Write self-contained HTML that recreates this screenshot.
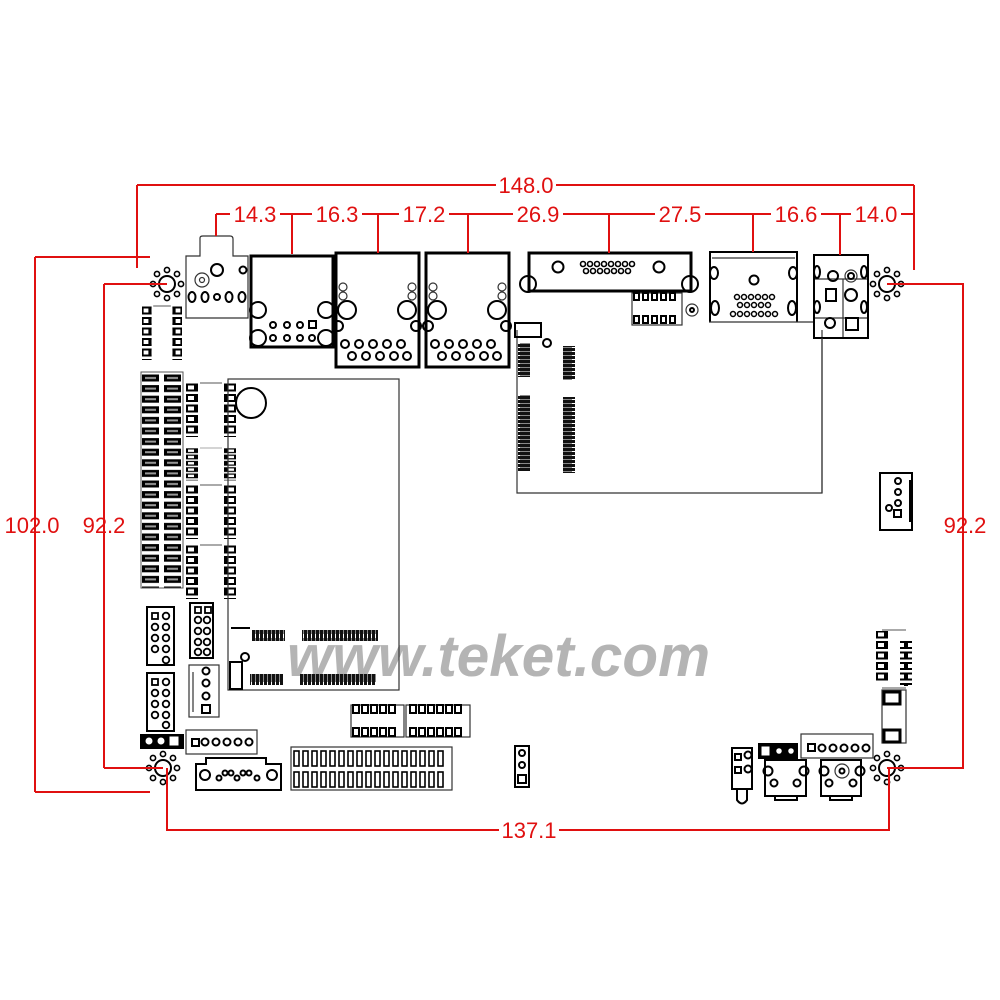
<!DOCTYPE html>
<html><head><meta charset="utf-8"><style>
html,body{margin:0;padding:0;background:#fff;}
svg{display:block;}
.r{stroke:#e01010;stroke-width:2;fill:none;}
.t{fill:#e01010;font-family:"Liberation Sans",sans-serif;font-size:22px;}
.k{stroke:#000;fill:none;stroke-width:3;}
.k2{stroke:#000;fill:none;stroke-width:2;}
.k1{stroke:#333;fill:none;stroke-width:1.2;}
</style></head><body>
<svg width="1000" height="1000" viewBox="0 0 1000 1000" xmlns="http://www.w3.org/2000/svg">
<defs>
<pattern id="dimm" x="141" y="373" width="42" height="10.6" patternUnits="userSpaceOnUse">
<rect x="1" y="1.5" width="17" height="7" fill="#000"/><rect x="4" y="4" width="11" height="2" fill="#999"/>
<rect x="23" y="1.5" width="17" height="7" fill="#000"/><rect x="26" y="4" width="11" height="2" fill="#999"/>
</pattern>
<pattern id="res" x="0" y="0" width="10" height="10.5" patternUnits="userSpaceOnUse">
<rect x="1" y="1.5" width="8" height="6" fill="#fff" stroke="#000" stroke-width="2"/>
</pattern>
<pattern id="slotv" x="0" y="0" width="14" height="4" patternUnits="userSpaceOnUse">
<rect x="0" y="0" width="14" height="3" fill="#111"/><rect x="2" y="3" width="10" height="1" fill="#888"/>
</pattern>
<pattern id="sloth" x="0" y="0" width="4" height="12" patternUnits="userSpaceOnUse">
<rect x="0" y="0" width="3" height="12" fill="#111"/><rect x="3" y="2" width="1" height="8" fill="#888"/>
</pattern>
<g id="mh">
<circle r="8" fill="#fff" stroke="#000" stroke-width="2"/>
<circle cx="0" cy="-14" r="2.6" fill="none" stroke="#000" stroke-width="1.6"/>
<circle cx="0" cy="14" r="2.6" fill="none" stroke="#000" stroke-width="1.6"/>
<circle cx="-14" cy="0" r="2.6" fill="none" stroke="#000" stroke-width="1.6"/>
<circle cx="14" cy="0" r="2.6" fill="none" stroke="#000" stroke-width="1.6"/>
<circle cx="-10" cy="-10" r="2.6" fill="none" stroke="#000" stroke-width="1.6"/>
<circle cx="10" cy="-10" r="2.6" fill="none" stroke="#000" stroke-width="1.6"/>
<circle cx="-10" cy="10" r="2.6" fill="none" stroke="#000" stroke-width="1.6"/>
<circle cx="10" cy="10" r="2.6" fill="none" stroke="#000" stroke-width="1.6"/>
</g>
<g id="resn">
<line x1="14" y1="0" x2="36" y2="0" stroke="#555" stroke-width="1"/>
<rect x="0" y="0" width="12" height="54" fill="url(#res)"/>
<rect x="38" y="0" width="12" height="54" fill="url(#res)"/>
</g>
</defs>

<text x="287" y="676" textLength="423" lengthAdjust="spacingAndGlyphs" font-family="Liberation Sans,sans-serif" font-size="58" font-weight="bold" font-style="italic" fill="#b4b4b4">www.teket.com</text>

<rect x="141" y="372" width="42" height="216" fill="url(#dimm)" stroke="#555" stroke-width="1"/>
<g transform="translate(186,383)"><use href="#resn"/></g>
<g transform="translate(186,448)"><use href="#resn" transform="scale(1,0.6)"/></g>
<g transform="translate(186,485)"><use href="#resn"/></g>
<g transform="translate(186,545)"><use href="#resn"/></g>
<g transform="translate(142,306)"><use href="#resn" transform="scale(0.8,1)"/></g>

<rect x="228" y="379" width="171" height="311" class="k1"/>
<circle cx="251" cy="403" r="15" class="k2"/>
<rect x="252" y="630" width="33" height="11" fill="url(#sloth)"/>
<rect x="302" y="630" width="76" height="11" fill="url(#sloth)"/>
<rect x="250" y="674" width="33" height="11" fill="url(#sloth)"/>
<rect x="300" y="674" width="76" height="11" fill="url(#sloth)"/>
<line x1="231" y1="628" x2="250" y2="628" stroke="#000" stroke-width="2"/>
<circle cx="245" cy="657" r="4" class="k2"/>
<rect x="230" y="662" width="12" height="27" class="k2"/>

<polyline points="517,330 517,493 822,493 822,330" class="k1"/>
<rect x="515" y="323" width="26" height="14" class="k2"/>
<circle cx="547" cy="343" r="4" class="k2"/>
<rect x="518" y="343" width="12" height="34" fill="url(#slotv)"/>
<rect x="518" y="395" width="12" height="76" fill="url(#slotv)"/>
<rect x="563" y="346" width="12" height="34" fill="url(#slotv)"/>
<rect x="563" y="397" width="12" height="76" fill="url(#slotv)"/>

<path d="M186,318 V256 H200 V238 Q200,236 203,236 H230 Q233,236 233,239 V256 H248 V318 Z" class="k1"/>
<circle cx="202" cy="280" r="7" class="k1"/><circle cx="202" cy="280" r="2.5" class="k1"/>
<circle cx="217" cy="270" r="6" class="k2"/><circle cx="243" cy="270" r="3.5" class="k2"/>
<ellipse cx="192" cy="297" rx="3.5" ry="5" class="k2"/><ellipse cx="205" cy="297" rx="3.5" ry="5" class="k2"/>
<circle cx="217" cy="297" r="3" class="k2"/><ellipse cx="229" cy="297" rx="3.5" ry="5" class="k2"/><ellipse cx="242" cy="297" rx="3.5" ry="5" class="k2"/>

<rect x="251" y="256" width="82" height="91" class="k"/>
<circle cx="258" cy="310" r="8" class="k2"/><circle cx="326" cy="310" r="8" class="k2"/>
<circle cx="258" cy="338" r="8" class="k2"/><circle cx="326" cy="338" r="8" class="k2"/>
<circle cx="273" cy="325" r="3" class="k2"/><circle cx="287" cy="325" r="3" class="k2"/><circle cx="300" cy="325" r="3" class="k2"/><rect x="309" y="321" width="7" height="7" class="k2"/>
<circle cx="273" cy="338" r="3" class="k2"/><circle cx="287" cy="338" r="3" class="k2"/><circle cx="300" cy="338" r="3" class="k2"/><circle cx="312" cy="338" r="3" class="k2"/>

<g id="rj2">
<rect x="336" y="253" width="83" height="114" class="k"/>
<circle cx="343" cy="287" r="4" class="k1"/><circle cx="343" cy="296" r="4" class="k1"/>
<circle cx="412" cy="287" r="4" class="k1"/><circle cx="412" cy="296" r="4" class="k1"/>
<circle cx="347" cy="310" r="9" class="k2"/><circle cx="407" cy="310" r="9" class="k2"/>
<circle cx="338" cy="326" r="5" class="k2"/><circle cx="416" cy="326" r="5" class="k2"/>
<circle cx="345" cy="344" r="4" class="k2"/><circle cx="359" cy="344" r="4" class="k2"/><circle cx="373" cy="344" r="4" class="k2"/><circle cx="387" cy="344" r="4" class="k2"/><circle cx="401" cy="344" r="4" class="k2"/>
<circle cx="352" cy="356" r="4" class="k2"/><circle cx="366" cy="356" r="4" class="k2"/><circle cx="380" cy="356" r="4" class="k2"/><circle cx="394" cy="356" r="4" class="k2"/><circle cx="407" cy="356" r="4" class="k2"/>
</g>
<use href="#rj2" x="90"/>

<rect x="529" y="253" width="162" height="38" class="k"/>
<circle cx="558" cy="267" r="5.5" class="k2"/><circle cx="659" cy="267" r="5.5" class="k2"/>
<circle cx="528" cy="284" r="8" class="k2"/><circle cx="690" cy="284" r="8" class="k2"/>
<g fill="none" stroke="#000" stroke-width="1.6">
<circle cx="583" cy="264" r="2.5"/><circle cx="590" cy="264" r="2.5"/><circle cx="597" cy="264" r="2.5"/><circle cx="604" cy="264" r="2.5"/><circle cx="611" cy="264" r="2.5"/><circle cx="618" cy="264" r="2.5"/><circle cx="625" cy="264" r="2.5"/><circle cx="632" cy="264" r="2.5"/>
<circle cx="586" cy="271" r="2.5"/><circle cx="593" cy="271" r="2.5"/><circle cx="600" cy="271" r="2.5"/><circle cx="607" cy="271" r="2.5"/><circle cx="614" cy="271" r="2.5"/><circle cx="621" cy="271" r="2.5"/><circle cx="628" cy="271" r="2.5"/>
</g>
<rect x="632" y="293" width="50" height="32" class="k1"/>
<g fill="#fff" stroke="#000" stroke-width="2">
<rect x="634" y="293" width="5" height="7"/><rect x="643" y="293" width="5" height="7"/><rect x="652" y="293" width="5" height="7"/><rect x="661" y="293" width="5" height="7"/><rect x="670" y="293" width="5" height="7"/>
<rect x="634" y="316" width="5" height="7"/><rect x="643" y="316" width="5" height="7"/><rect x="652" y="316" width="5" height="7"/><rect x="661" y="316" width="5" height="7"/><rect x="670" y="316" width="5" height="7"/>
</g>
<circle cx="692" cy="310" r="6" class="k1"/><circle cx="692" cy="310" r="2" class="k2"/>

<path d="M710,322 V252 H797 V322" class="k2"/><line x1="712" y1="258" x2="795" y2="258" class="k1"/>
<line x1="709" y1="322" x2="813" y2="322" class="k1"/>
<ellipse cx="714" cy="273" rx="4" ry="6" class="k2"/><ellipse cx="793" cy="273" rx="4" ry="6" class="k2"/>
<ellipse cx="715" cy="308" rx="4" ry="7" class="k2"/><ellipse cx="792" cy="308" rx="4" ry="7" class="k2"/>
<circle cx="754" cy="280" r="4.5" class="k2"/>
<g fill="none" stroke="#000" stroke-width="1.5">
<circle cx="737" cy="297" r="2.5"/><circle cx="744" cy="297" r="2.5"/><circle cx="751" cy="297" r="2.5"/><circle cx="758" cy="297" r="2.5"/><circle cx="765" cy="297" r="2.5"/><circle cx="772" cy="297" r="2.5"/>
<circle cx="740" cy="305" r="2.5"/><circle cx="747" cy="305" r="2.5"/><circle cx="754" cy="305" r="2.5"/><circle cx="761" cy="305" r="2.5"/><circle cx="768" cy="305" r="2.5"/>
<circle cx="733" cy="314" r="2.5"/><circle cx="740" cy="314" r="2.5"/><circle cx="747" cy="314" r="2.5"/><circle cx="754" cy="314" r="2.5"/><circle cx="761" cy="314" r="2.5"/><circle cx="768" cy="314" r="2.5"/><circle cx="775" cy="314" r="2.5"/>
</g>

<rect x="814" y="255" width="54" height="83" class="k2"/>
<line x1="815" y1="279" x2="867" y2="279" class="k1"/><line x1="843" y1="279" x2="843" y2="337" class="k1"/><line x1="815" y1="318" x2="867" y2="318" class="k1"/>
<circle cx="833" cy="276" r="5" class="k2"/><circle cx="851" cy="276" r="6" class="k1"/><circle cx="851" cy="276" r="3" class="k2"/>
<circle cx="851" cy="295" r="6" class="k2"/><rect x="826" y="289" width="10" height="12" class="k2"/>
<ellipse cx="817" cy="272" rx="3" ry="6" class="k2"/><ellipse cx="864" cy="272" rx="3" ry="6" class="k2"/>
<ellipse cx="817" cy="307" rx="3" ry="6" class="k2"/><ellipse cx="864" cy="307" rx="3" ry="6" class="k2"/>
<circle cx="830" cy="323" r="5" class="k2"/><rect x="846" y="318" width="12" height="12" class="k2"/>
<line x1="822" y1="338" x2="822" y2="493" class="k1"/>

<rect x="880" y="473" width="32" height="57" class="k2"/>
<circle cx="898" cy="481" r="3" class="k2"/><circle cx="898" cy="492" r="3" class="k2"/><circle cx="898" cy="503" r="3" class="k2"/><circle cx="889" cy="508" r="3" class="k2"/><rect x="894" y="510" width="7" height="7" class="k2"/>
<line x1="910" y1="480" x2="910" y2="522" stroke="#000" stroke-width="2"/>
<g transform="translate(876,630)"><line x1="6" y1="0" x2="30" y2="0" stroke="#555"/><rect x="0" y="1" width="12" height="52" fill="url(#res)"/><rect x="24" y="10" width="12" height="46" fill="url(#res)"/><line x1="6" y1="58" x2="30" y2="58" stroke="#555"/></g>
<rect x="882" y="690" width="24" height="53" class="k1"/>
<rect x="884" y="692" width="16" height="12" class="k"/><rect x="884" y="730" width="16" height="12" class="k"/>

<rect x="732" y="748" width="20" height="41" class="k2"/>
<rect x="735" y="754" width="6" height="6" class="k2"/><rect x="735" y="767" width="6" height="6" class="k2"/>
<circle cx="748" cy="755" r="3.5" class="k2"/><circle cx="748" cy="769" r="3.5" class="k2"/>
<path d="M737,789 V800 Q742,807 747,800 V789" class="k2"/>
<rect x="758" y="743" width="40" height="16" fill="#000"/>
<rect x="761" y="746" width="9" height="10" fill="#fff" stroke="#000"/><circle cx="779" cy="751" r="3.5" fill="#fff" stroke="#000" stroke-width="1.5"/><circle cx="791" cy="751" r="3.5" fill="#fff" stroke="#000" stroke-width="1.5"/>
<rect x="801" y="734" width="72" height="24" class="k1"/>
<rect x="808" y="744" width="7" height="7" class="k2"/><circle cx="822" cy="748" r="3.5" class="k2"/><circle cx="833" cy="748" r="3.5" class="k2"/><circle cx="844" cy="748" r="3.5" class="k2"/><circle cx="855" cy="748" r="3.5" class="k2"/><circle cx="866" cy="748" r="3.5" class="k2"/>
<rect x="765" y="760" width="41" height="36" class="k2"/><rect x="775" y="796" width="22" height="4" class="k2"/>
<circle cx="768" cy="771" r="4.5" class="k2"/><circle cx="804" cy="771" r="4.5" class="k2"/><circle cx="774" cy="783" r="3.5" class="k2"/><circle cx="797" cy="783" r="3.5" class="k2"/>
<rect x="821" y="760" width="40" height="36" class="k2"/><rect x="830" y="796" width="22" height="4" class="k2"/>
<circle cx="824" cy="771" r="4.5" class="k2"/><circle cx="860" cy="771" r="4.5" class="k2"/><circle cx="842" cy="771" r="7" class="k1"/><circle cx="842" cy="771" r="2.5" class="k2"/><circle cx="829" cy="783" r="3.5" class="k2"/><circle cx="853" cy="783" r="3.5" class="k2"/>

<rect x="147" y="607" width="27" height="58" class="k2"/>
<g fill="none" stroke="#000" stroke-width="1.8"><rect x="152" y="613" width="6" height="6"/><circle cx="166" cy="616" r="3.3"/><circle cx="155" cy="627" r="3.3"/><circle cx="166" cy="627" r="3.3"/><circle cx="155" cy="638" r="3.3"/><circle cx="166" cy="638" r="3.3"/><circle cx="155" cy="649" r="3.3"/><circle cx="166" cy="649" r="3.3"/><circle cx="166" cy="660" r="3.3"/></g>
<rect x="147" y="673" width="27" height="58" class="k2"/>
<g fill="none" stroke="#000" stroke-width="1.8"><rect x="152" y="679" width="6" height="6"/><circle cx="166" cy="682" r="3.3"/><circle cx="155" cy="693" r="3.3"/><circle cx="166" cy="693" r="3.3"/><circle cx="155" cy="704" r="3.3"/><circle cx="166" cy="704" r="3.3"/><circle cx="155" cy="715" r="3.3"/><circle cx="166" cy="715" r="3.3"/><circle cx="166" cy="725" r="3.3"/></g>
<rect x="190" y="603" width="23" height="55" class="k2"/>
<g fill="none" stroke="#000" stroke-width="1.8"><rect x="195" y="607" width="6" height="6"/><rect x="205" y="607" width="6" height="6"/><circle cx="198" cy="620" r="3.3"/><circle cx="207" cy="620" r="3.3"/><circle cx="198" cy="631" r="3.3"/><circle cx="207" cy="631" r="3.3"/><circle cx="198" cy="642" r="3.3"/><circle cx="207" cy="642" r="3.3"/><circle cx="198" cy="652" r="3.3"/><circle cx="207" cy="652" r="3.3"/></g>
<rect x="189" y="665" width="30" height="52" class="k1"/><line x1="193" y1="672" x2="193" y2="712" class="k1"/>
<circle cx="206" cy="671" r="3.5" class="k2"/><circle cx="206" cy="683" r="3.5" class="k2"/><circle cx="206" cy="696" r="3.5" class="k2"/><rect x="202" y="705" width="8" height="8" class="k2"/>
<rect x="140" y="734" width="44" height="15" fill="#000"/>
<circle cx="149" cy="741" r="4" fill="#fff" stroke="#000"/><circle cx="161" cy="741" r="4" fill="#fff" stroke="#000"/><rect x="169" y="736" width="10" height="10" fill="#fff" stroke="#000"/>
<rect x="186" y="730" width="71" height="24" class="k1"/>
<rect x="192" y="739" width="7" height="7" class="k2"/><circle cx="205" cy="742" r="3.5" class="k2"/><circle cx="216" cy="742" r="3.5" class="k2"/><circle cx="227" cy="742" r="3.5" class="k2"/><circle cx="238" cy="742" r="3.5" class="k2"/><circle cx="249" cy="742" r="3.5" class="k2"/>
<path d="M196,790 V764 H206 V758 H266 V764 H281 V790 Z" class="k2"/>
<circle cx="205" cy="775" r="5" class="k2"/><circle cx="272" cy="775" r="5" class="k2"/>
<circle cx="219" cy="778" r="2.5" class="k2"/><circle cx="225" cy="773" r="2.5" class="k2"/><circle cx="231" cy="773" r="2.5" class="k2"/><circle cx="237" cy="778" r="2.5" class="k2"/><circle cx="243" cy="773" r="2.5" class="k2"/><circle cx="249" cy="773" r="2.5" class="k2"/><circle cx="257" cy="778" r="2.5" class="k2"/>

<rect x="351" y="705" width="53" height="32" class="k1"/><rect x="406" y="705" width="64" height="32" class="k1"/>
<g fill="#fff" stroke="#000" stroke-width="2">
<rect x="353" y="705" width="6" height="8"/><rect x="362" y="705" width="6" height="8"/><rect x="371" y="705" width="6" height="8"/><rect x="380" y="705" width="6" height="8"/><rect x="389" y="705" width="6" height="8"/>
<rect x="410" y="705" width="6" height="8"/><rect x="419" y="705" width="6" height="8"/><rect x="428" y="705" width="6" height="8"/><rect x="437" y="705" width="6" height="8"/><rect x="446" y="705" width="6" height="8"/><rect x="455" y="705" width="6" height="8"/>
<rect x="353" y="728" width="6" height="8"/><rect x="362" y="728" width="6" height="8"/><rect x="371" y="728" width="6" height="8"/><rect x="380" y="728" width="6" height="8"/><rect x="389" y="728" width="6" height="8"/>
<rect x="410" y="728" width="6" height="8"/><rect x="419" y="728" width="6" height="8"/><rect x="428" y="728" width="6" height="8"/><rect x="437" y="728" width="6" height="8"/><rect x="446" y="728" width="6" height="8"/><rect x="455" y="728" width="6" height="8"/>
</g>
<rect x="291" y="747" width="161" height="43" class="k1"/>
<g fill="none" stroke="#000" stroke-width="1.6">
<rect x="294" y="751" width="5" height="15"/><rect x="303" y="751" width="5" height="15"/><rect x="312" y="751" width="5" height="15"/><rect x="321" y="751" width="5" height="15"/><rect x="330" y="751" width="5" height="15"/><rect x="339" y="751" width="5" height="15"/><rect x="348" y="751" width="5" height="15"/><rect x="357" y="751" width="5" height="15"/><rect x="366" y="751" width="5" height="15"/><rect x="375" y="751" width="5" height="15"/><rect x="384" y="751" width="5" height="15"/><rect x="393" y="751" width="5" height="15"/><rect x="402" y="751" width="5" height="15"/><rect x="411" y="751" width="5" height="15"/><rect x="420" y="751" width="5" height="15"/><rect x="429" y="751" width="5" height="15"/><rect x="438" y="751" width="5" height="15"/>
<rect x="294" y="772" width="5" height="15"/><rect x="303" y="772" width="5" height="15"/><rect x="312" y="772" width="5" height="15"/><rect x="321" y="772" width="5" height="15"/><rect x="330" y="772" width="5" height="15"/><rect x="339" y="772" width="5" height="15"/><rect x="348" y="772" width="5" height="15"/><rect x="357" y="772" width="5" height="15"/><rect x="366" y="772" width="5" height="15"/><rect x="375" y="772" width="5" height="15"/><rect x="384" y="772" width="5" height="15"/><rect x="393" y="772" width="5" height="15"/><rect x="402" y="772" width="5" height="15"/><rect x="411" y="772" width="5" height="15"/><rect x="420" y="772" width="5" height="15"/><rect x="429" y="772" width="5" height="15"/><rect x="438" y="772" width="5" height="15"/>
</g>
<rect x="515" y="746" width="14" height="41" class="k2"/>
<circle cx="522" cy="753" r="3" class="k2"/><circle cx="522" cy="765" r="3" class="k2"/><rect x="518" y="775" width="8" height="8" class="k2"/>

<use href="#mh" x="167" y="284"/>
<use href="#mh" x="887" y="284"/>
<use href="#mh" x="163" y="768"/>
<use href="#mh" x="887" y="768"/>

<path class="r" d="M137,185 H914 M137,185 V268 M914,185 V270"/>
<path class="r" d="M216,214 H914 M216,214 V236 M292,214 V254 M378,214 V253 M468,214 V253 M609,214 V253 M753,214 V252 M840,214 V255"/>
<path class="r" d="M35,257 H150 M35,257 V792 M35,792 H150"/>
<path class="r" d="M104,284 H167 M104,284 V768 M104,768 H163"/>
<path class="r" d="M887,284 H963 V768 H887"/>
<path class="r" d="M167,768 V830 H889 V768"/>
<g fill="#fff">
<rect x="496" y="174" width="60" height="22"/>
<rect x="230" y="203" width="50" height="22"/><rect x="312" y="203" width="50" height="22"/><rect x="399" y="203" width="50" height="22"/>
<rect x="513" y="203" width="50" height="22"/><rect x="655" y="203" width="50" height="22"/><rect x="771" y="203" width="50" height="22"/><rect x="851" y="203" width="50" height="22"/>
<rect x="499" y="819" width="60" height="22"/>
</g>
<g class="t">
<text x="526" y="193" text-anchor="middle">148.0</text>
<text x="255" y="222" text-anchor="middle">14.3</text>
<text x="337" y="222" text-anchor="middle">16.3</text>
<text x="424" y="222" text-anchor="middle">17.2</text>
<text x="538" y="222" text-anchor="middle">26.9</text>
<text x="680" y="222" text-anchor="middle">27.5</text>
<text x="796" y="222" text-anchor="middle">16.6</text>
<text x="876" y="222" text-anchor="middle">14.0</text>
<text x="32" y="533" text-anchor="middle">102.0</text>
<text x="104" y="533" text-anchor="middle">92.2</text>
<text x="965" y="533" text-anchor="middle">92.2</text>
<text x="529" y="838" text-anchor="middle">137.1</text>
</g>
</svg>
</body></html>
